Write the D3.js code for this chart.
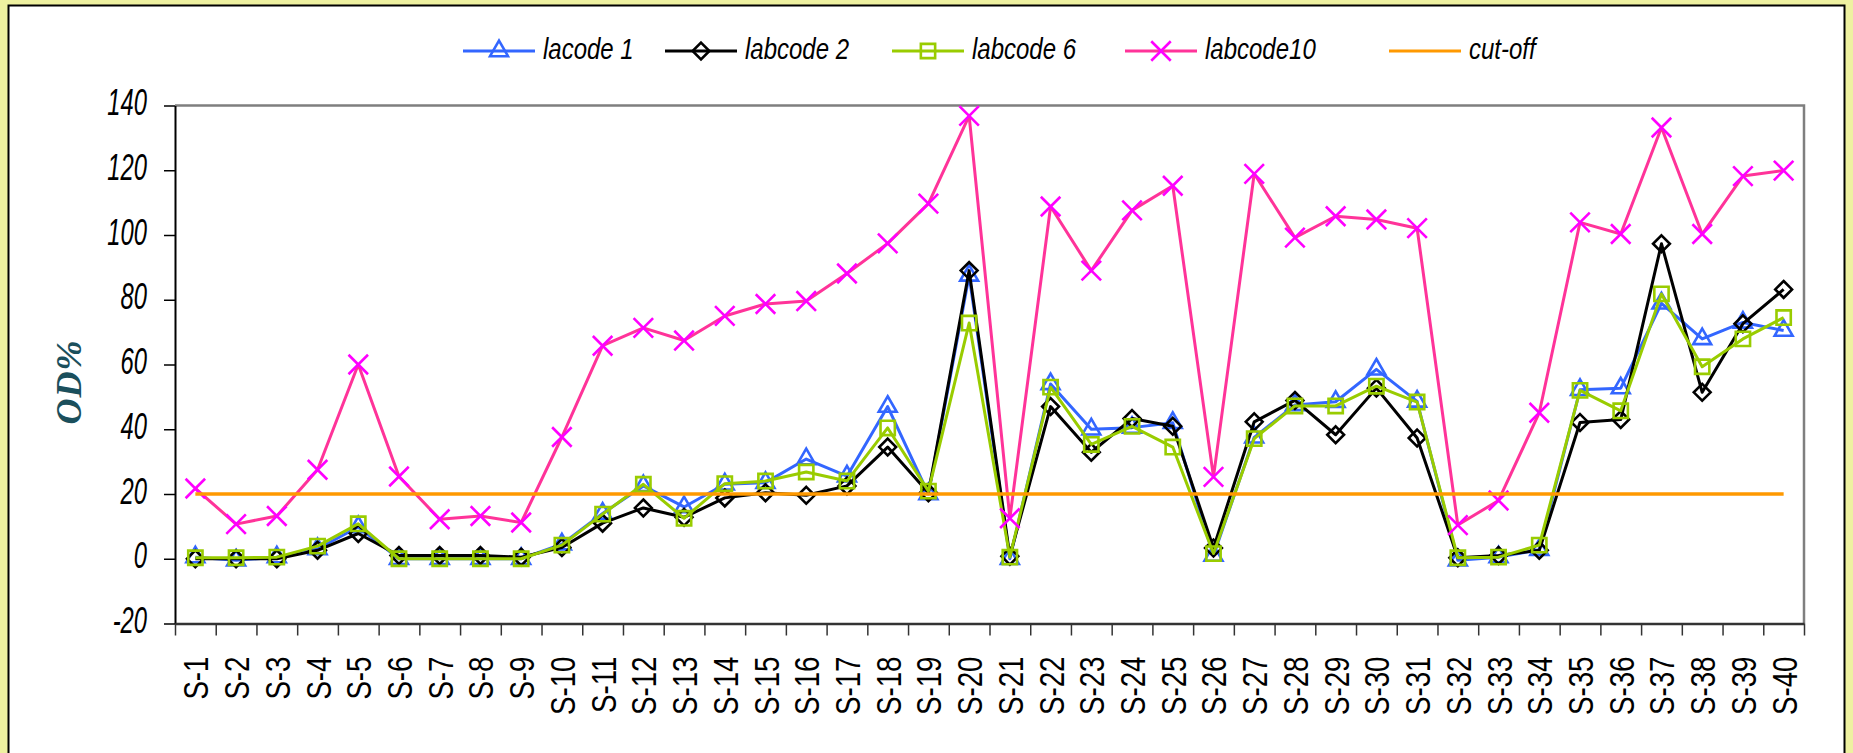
<!DOCTYPE html>
<html>
<head>
<meta charset="utf-8">
<script src="https://cdn.jsdelivr.net/npm/d3@7"></script>
<style>
  html, body { margin: 0; padding: 0; background: #EEF1A0; }
  svg { display: block; }
</style>
</head>
<body>
<svg id="chart" width="1853" height="753"></svg>
<script>
// Samples along the x axis
const categories = ["S-1","S-2","S-3","S-4","S-5","S-6","S-7","S-8","S-9","S-10",
  "S-11","S-12","S-13","S-14","S-15","S-16","S-17","S-18","S-19","S-20",
  "S-21","S-22","S-23","S-24","S-25","S-26","S-27","S-28","S-29","S-30",
  "S-31","S-32","S-33","S-34","S-35","S-36","S-37","S-38","S-39","S-40"];

// OD% per laboratory
const lacode1 = [0.5, -0.5, 0.5, 3, 9.8, 0, 0, 0, 0, 4.5,
  14, 22.5, 16, 23, 23.5, 30.8, 25.5, 47, 20, 87.5,
  0, 54, 40, 40.5, 42, 1, 37.5, 47.5, 48.5, 58.5,
  48.6, -0.5, 0.5, 2.8, 52.2, 52.7, 78.9, 67.9, 73, 70.5];
const labcode2 = [0, 0, 0, 2.6, 7.8, 1, 1, 1, 0.5, 3.5,
  11, 15.7, 12.8, 18.8, 20.4, 19.6, 22.5, 34.5, 20.4, 89,
  0.8, 47, 32.9, 43.3, 40.9, 3.3, 42.3, 48.9, 38.3, 52.7,
  37.3, 0.3, 1, 2.6, 42.1, 43, 97.3, 51.4, 72.6, 83.2];
const labcode6 = [0.3, 0.3, 0.5, 3.9, 10.8, 0, 0, 0, 0, 4.2,
  13.8, 23, 12.5, 23.2, 24, 26.8, 24, 40.4, 20.9, 72.8,
  0.5, 53, 35.3, 40.9, 34.5, 1.6, 37.1, 47.2, 47.2, 53.3,
  48.4, 0.3, 0.5, 4.2, 52, 45.7, 81.8, 59.3, 67.9, 74.5];
const labcode10 = [21.7, 10.7, 13.2, 27.5, 60, 25.4, 12.2, 13.2, 11.2, 37.6,
  65.8, 71.3, 67.4, 75, 78.7, 79.6, 88.1, 97.4, 109.7, 136.8,
  12.5, 108.8, 89, 107.6, 115.2, 25.3, 118.9, 99.2, 105.8, 104.8,
  102.1, 10.4, 18, 45.1, 103.9, 100.3, 133.2, 100.3, 118.2, 119.9];
const cutOff = 20;

const yTicks = [-20, 0, 20, 40, 60, 80, 100, 120, 140];
const seriesNames = ["lacode 1", "labcode 2", "labcode 6", "labcode10", "cut-off"];
const yTitle = "OD%";

const W = 1853, H = 753;
const svg = d3.select("#chart");

// page background and white chart frame
svg.append("rect").attr("width", W).attr("height", H).attr("fill", "#EEF1A0");
svg.append("rect").attr("x", 8.5).attr("y", 5.5).attr("width", 1836).attr("height", H + 10)
  .attr("fill", "#fff").attr("stroke", "#000").attr("stroke-width", 2);

const plot = { left: 175, right: 1804, top: 105.5, bottom: 623.5 };
const x = d3.scaleBand().domain(categories).range([plot.left, plot.right]);
const xEdge = d3.scaleLinear().domain([0, categories.length]).range([plot.left, plot.right]);
const y = d3.scaleLinear().domain([-20, 140]).range([plot.bottom, plot.top]);
const cx = c => x(c) + x.bandwidth() / 2;

// grey plot-area border (top and right)
svg.append("path")
  .attr("d", `M${plot.left},${plot.top}H${plot.right}V${plot.bottom}`)
  .attr("fill", "none").attr("stroke", "#7f7f7f").attr("stroke-width", 2.5);

// y axis
const yAxis = svg.append("g")
  .attr("transform", `translate(${plot.left},0)`)
  .call(d3.axisLeft(y).tickValues(yTicks).tickSize(11).tickSizeOuter(0).tickFormat(d => String(d)));
yAxis.select(".domain").attr("stroke", "#000").attr("stroke-width", 2);
yAxis.selectAll(".tick line").attr("stroke", "#000").attr("stroke-width", 1.5);
yAxis.selectAll(".tick text")
  .attr("x", null).attr("dy", null)
  .attr("transform", "translate(-28,9) scale(0.66,1)")
  .attr("text-anchor", "end")
  .attr("font-family", "'Liberation Sans', Arial, sans-serif")
  .attr("font-style", "italic")
  .attr("font-size", 36)
  .attr("fill", "#000");

// x axis: boundary ticks between samples
const xTickAxis = svg.append("g")
  .attr("transform", `translate(0,${plot.bottom})`)
  .call(d3.axisBottom(xEdge).tickValues(d3.range(0, categories.length + 1)).tickSize(12).tickSizeOuter(0).tickFormat(""));
xTickAxis.select(".domain").attr("stroke", "#333").attr("stroke-width", 2.5);
xTickAxis.selectAll(".tick line").attr("stroke", "#333").attr("stroke-width", 1.5);

// x axis: rotated sample labels
const xLabelAxis = svg.append("g")
  .attr("transform", `translate(0,${plot.bottom})`)
  .call(d3.axisBottom(x).tickSize(0).tickPadding(0));
xLabelAxis.select(".domain").remove();
xLabelAxis.selectAll(".tick text")
  .attr("y", null).attr("dy", null)
  .attr("transform", "translate(0,33) rotate(-90) scale(0.77,1) translate(0,13)")
  .attr("text-anchor", "end")
  .attr("font-family", "'Liberation Sans', Arial, sans-serif")
  .attr("font-size", 36)
  .attr("fill", "#000");

// y title
svg.append("text")
  .attr("transform", "translate(81,382) rotate(-90)")
  .attr("text-anchor", "middle")
  .attr("font-family", "'Liberation Serif', 'Times New Roman', serif")
  .attr("font-style", "italic").attr("font-weight", "bold")
  .attr("font-size", 36).attr("letter-spacing", 1)
  .attr("fill", "#1B4F5C")
  .text(yTitle);

// series
const series = [
  { name: seriesNames[0], values: lacode1, line: "#3366FF", mark: "#3366FF", symbol: d3.symbolTriangle2, size: 230 },
  { name: seriesNames[1], values: labcode2, line: "#000000", mark: "#000000", symbol: d3.symbolDiamond2, size: 180 },
  { name: seriesNames[2], values: labcode6, line: "#99CC00", mark: "#99CC00", symbol: d3.symbolSquare2, size: 260 },
  { name: seriesNames[3], values: labcode10, line: "#FF3399", mark: "#FF00FF", symbol: d3.symbolTimes, size: 250 }
];

const line = d3.line().x(d => cx(d.c)).y(d => y(d.v));

series.forEach(s => {
  const pts = categories.map((c, i) => ({ c, v: s.values[i] }));
  const g = svg.append("g");
  g.append("path").datum(pts)
    .attr("d", line)
    .attr("fill", "none").attr("stroke", s.line).attr("stroke-width", 3)
    .attr("stroke-linejoin", "round");
  g.selectAll("path.mk").data(pts).join("path")
    .attr("class", "mk")
    .attr("transform", d => `translate(${cx(d.c)},${y(d.v)})`)
    .attr("d", d3.symbol(s.symbol, s.size))
    .attr("fill", "none").attr("stroke", s.mark).attr("stroke-width", 2.6);
});

// cut-off line
const cutPts = [categories[0], categories[categories.length - 1]].map(c => ({ c, v: cutOff }));
svg.append("path").datum(cutPts)
  .attr("d", line)
  .attr("fill", "none").attr("stroke", "#FF9900").attr("stroke-width", 3.5);

// legend
const legendItems = series.map(s => ({ name: s.name, line: s.line, mark: s.mark, symbol: s.symbol, size: s.size }))
  .concat([{ name: seriesNames[4], line: "#FF9900", mark: null }]);
const legY = 51, symW = 72, textOff = 80;
const legTextX = [543, 745, 972, 1205, 1469];
legendItems.forEach((it, i) => {
  const g = svg.append("g").attr("transform", `translate(${legTextX[i] - textOff},0)`);
  g.append("line").attr("x1", 0).attr("x2", symW).attr("y1", legY).attr("y2", legY)
    .attr("stroke", it.line).attr("stroke-width", 3);
  if (it.mark) {
    g.append("path").attr("transform", `translate(${symW / 2},${legY})`)
      .attr("d", d3.symbol(it.symbol, it.size))
      .attr("fill", "none").attr("stroke", it.mark).attr("stroke-width", 2.6);
  }
  g.append("text")
    .attr("transform", `translate(${textOff},${legY + 7.5}) scale(0.8,1)`)
    .attr("font-family", "'Liberation Sans', Arial, sans-serif")
    .attr("font-style", "italic").attr("font-size", 30).attr("fill", "#000")
    .text(it.name);
});
</script>
</body>
</html>
